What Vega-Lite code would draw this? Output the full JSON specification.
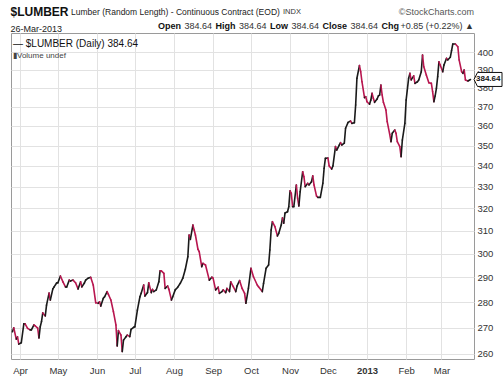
{
  "$schema": "https://vega.github.io/schema/vega-lite/v6.json",
  "width": 463,
  "height": 326,
  "autosize": {"type": "none"},
  "padding": {"left": 11, "top": 33, "right": 29, "bottom": 22},
  "background": "white",
  "config": {
    "view": {"stroke": "#9a9a9a", "strokeWidth": 1},
    "font": "Liberation Sans, Arial, sans-serif"
  },
  "layer": [
    {
      "data": {
        "values": [
          {"date": "2012-03-26", "price": 268.4}, {"date": "2012-03-27", "price": 269.9}, {"date": "2012-03-29", "price": 265.6}, {"date": "2012-03-30", "price": 266.4}, {"date": "2012-03-31", "price": 263.7},
          {"date": "2012-04-02", "price": 264.2}, {"date": "2012-04-04", "price": 271.4}, {"date": "2012-04-05", "price": 271.4}, {"date": "2012-04-07", "price": 269.7}, {"date": "2012-04-09", "price": 269.1},
          {"date": "2012-04-10", "price": 269.1}, {"date": "2012-04-12", "price": 271.0}, {"date": "2012-04-13", "price": 270.6}, {"date": "2012-04-15", "price": 269.8}, {"date": "2012-04-16", "price": 266.0},
          {"date": "2012-04-17", "price": 270.3}, {"date": "2012-04-18", "price": 272.3}, {"date": "2012-04-19", "price": 275.7}, {"date": "2012-04-21", "price": 274.5}, {"date": "2012-04-22", "price": 278.8},
          {"date": "2012-04-24", "price": 283.6}, {"date": "2012-04-25", "price": 280.8}, {"date": "2012-04-27", "price": 285.3}, {"date": "2012-04-28", "price": 286.1}, {"date": "2012-04-30", "price": 287.7},
          {"date": "2012-05-01", "price": 287.8}, {"date": "2012-05-03", "price": 290.6}, {"date": "2012-05-05", "price": 288.2}, {"date": "2012-05-07", "price": 286.1}, {"date": "2012-05-08", "price": 286.1},
          {"date": "2012-05-10", "price": 288.9}, {"date": "2012-05-11", "price": 288.5}, {"date": "2012-05-13", "price": 288.9}, {"date": "2012-05-15", "price": 287.8}, {"date": "2012-05-17", "price": 285.3},
          {"date": "2012-05-19", "price": 288.2}, {"date": "2012-05-20", "price": 286.1}, {"date": "2012-05-22", "price": 287.7}, {"date": "2012-05-23", "price": 288.9}, {"date": "2012-05-25", "price": 289.7},
          {"date": "2012-05-27", "price": 290.1}, {"date": "2012-05-29", "price": 286.9}, {"date": "2012-05-31", "price": 279.7}, {"date": "2012-06-02", "price": 279.5}, {"date": "2012-06-03", "price": 280.1},
          {"date": "2012-06-04", "price": 278.4}, {"date": "2012-06-06", "price": 281.5}, {"date": "2012-06-07", "price": 282.1}, {"date": "2012-06-09", "price": 284.2}, {"date": "2012-06-10", "price": 283.1},
          {"date": "2012-06-12", "price": 280.8}, {"date": "2012-06-14", "price": 276.2}, {"date": "2012-06-16", "price": 271.0}, {"date": "2012-06-17", "price": 263.0}, {"date": "2012-06-18", "price": 268.8},
          {"date": "2012-06-20", "price": 267.1}, {"date": "2012-06-21", "price": 260.9}, {"date": "2012-06-22", "price": 265.2}, {"date": "2012-06-24", "price": 266.5}, {"date": "2012-06-25", "price": 267.1},
          {"date": "2012-06-27", "price": 266.5}, {"date": "2012-06-28", "price": 269.3}, {"date": "2012-06-30", "price": 270.1}, {"date": "2012-07-01", "price": 270.3}, {"date": "2012-07-03", "price": 276.8},
          {"date": "2012-07-05", "price": 282.1}, {"date": "2012-07-06", "price": 283.5}, {"date": "2012-07-08", "price": 286.9}, {"date": "2012-07-09", "price": 282.4}, {"date": "2012-07-11", "price": 283.8},
          {"date": "2012-07-12", "price": 287.8}, {"date": "2012-07-14", "price": 283.8}, {"date": "2012-07-15", "price": 285.1}, {"date": "2012-07-16", "price": 284.2}, {"date": "2012-07-18", "price": 284.9},
          {"date": "2012-07-20", "price": 288.2}, {"date": "2012-07-21", "price": 292.8}, {"date": "2012-07-22", "price": 292.7}, {"date": "2012-07-24", "price": 291.7}, {"date": "2012-07-25", "price": 285.5},
          {"date": "2012-07-27", "price": 286.5}, {"date": "2012-07-28", "price": 285.1}, {"date": "2012-07-30", "price": 280.8}, {"date": "2012-07-31", "price": 282.1}, {"date": "2012-08-02", "price": 284.9},
          {"date": "2012-08-04", "price": 286.0}, {"date": "2012-08-06", "price": 287.6}, {"date": "2012-08-08", "price": 289.7}, {"date": "2012-08-10", "price": 293.4}, {"date": "2012-08-12", "price": 298.7},
          {"date": "2012-08-13", "price": 308.1}, {"date": "2012-08-14", "price": 306.2}, {"date": "2012-08-16", "price": 312.5}, {"date": "2012-08-17", "price": 310.3}, {"date": "2012-08-18", "price": 308.1},
          {"date": "2012-08-20", "price": 301.9}, {"date": "2012-08-21", "price": 300.9}, {"date": "2012-08-23", "price": 294.5}, {"date": "2012-08-24", "price": 295.9}, {"date": "2012-08-26", "price": 295.2},
          {"date": "2012-08-29", "price": 288.9}, {"date": "2012-08-31", "price": 290.1}, {"date": "2012-09-01", "price": 289.7}, {"date": "2012-09-03", "price": 284.9}, {"date": "2012-09-05", "price": 286.0},
          {"date": "2012-09-06", "price": 283.5}, {"date": "2012-09-08", "price": 284.2}, {"date": "2012-09-09", "price": 284.9}, {"date": "2012-09-11", "price": 283.8}, {"date": "2012-09-12", "price": 285.5},
          {"date": "2012-09-14", "price": 284.2}, {"date": "2012-09-15", "price": 288.2}, {"date": "2012-09-17", "price": 286.2}, {"date": "2012-09-19", "price": 284.2}, {"date": "2012-09-20", "price": 286.5},
          {"date": "2012-09-22", "price": 288.7}, {"date": "2012-09-24", "price": 285.5}, {"date": "2012-09-26", "price": 283.5}, {"date": "2012-09-27", "price": 279.5}, {"date": "2012-09-29", "price": 285.5},
          {"date": "2012-10-01", "price": 293.8}, {"date": "2012-10-03", "price": 290.3}, {"date": "2012-10-06", "price": 286.9}, {"date": "2012-10-07", "price": 286.2}, {"date": "2012-10-10", "price": 284.2},
          {"date": "2012-10-11", "price": 287.6}, {"date": "2012-10-13", "price": 293.8}, {"date": "2012-10-15", "price": 295.2}, {"date": "2012-10-16", "price": 301.6}, {"date": "2012-10-17", "price": 310.3},
          {"date": "2012-10-18", "price": 314.0}, {"date": "2012-10-20", "price": 311.8}, {"date": "2012-10-22", "price": 307.7}, {"date": "2012-10-23", "price": 308.8}, {"date": "2012-10-25", "price": 312.5},
          {"date": "2012-10-26", "price": 315.7}, {"date": "2012-10-27", "price": 313.3}, {"date": "2012-10-28", "price": 317.9}, {"date": "2012-10-30", "price": 318.5}, {"date": "2012-10-31", "price": 320.8},
          {"date": "2012-11-01", "price": 328.1}, {"date": "2012-11-02", "price": 327.0}, {"date": "2012-11-03", "price": 320.8}, {"date": "2012-11-04", "price": 320.8}, {"date": "2012-11-06", "price": 330.9},
          {"date": "2012-11-07", "price": 324.7}, {"date": "2012-11-08", "price": 321.1}, {"date": "2012-11-09", "price": 327.7}, {"date": "2012-11-11", "price": 337.2}, {"date": "2012-11-12", "price": 334.8},
          {"date": "2012-11-13", "price": 330.1}, {"date": "2012-11-15", "price": 331.7}, {"date": "2012-11-16", "price": 330.9}, {"date": "2012-11-18", "price": 332.4}, {"date": "2012-11-19", "price": 335.2},
          {"date": "2012-11-20", "price": 330.9}, {"date": "2012-11-22", "price": 325.7}, {"date": "2012-11-23", "price": 325.1}, {"date": "2012-11-25", "price": 325.1}, {"date": "2012-11-27", "price": 331.7},
          {"date": "2012-11-28", "price": 338.9}, {"date": "2012-11-29", "price": 343.7}, {"date": "2012-12-01", "price": 343.9}, {"date": "2012-12-02", "price": 340.0}, {"date": "2012-12-04", "price": 338.5},
          {"date": "2012-12-05", "price": 340.0}, {"date": "2012-12-07", "price": 349.5}, {"date": "2012-12-08", "price": 347.8}, {"date": "2012-12-10", "price": 350.3}, {"date": "2012-12-11", "price": 351.5},
          {"date": "2012-12-12", "price": 350.3}, {"date": "2012-12-14", "price": 351.2}, {"date": "2012-12-15", "price": 358.8}, {"date": "2012-12-17", "price": 361.8}, {"date": "2012-12-19", "price": 362.5},
          {"date": "2012-12-20", "price": 361.3}, {"date": "2012-12-22", "price": 361.6}, {"date": "2012-12-23", "price": 370.9}, {"date": "2012-12-24", "price": 385.3}, {"date": "2012-12-26", "price": 392.3},
          {"date": "2012-12-27", "price": 388.9}, {"date": "2012-12-28", "price": 383.4}, {"date": "2012-12-30", "price": 374.8}, {"date": "2012-12-31", "price": 375.3}, {"date": "2013-01-01", "price": 372.6},
          {"date": "2013-01-03", "price": 371.3}, {"date": "2013-01-04", "price": 373.5}, {"date": "2013-01-05", "price": 377.1}, {"date": "2013-01-06", "price": 374.5}, {"date": "2013-01-07", "price": 372.3},
          {"date": "2013-01-09", "price": 374.1}, {"date": "2013-01-10", "price": 375.7}, {"date": "2013-01-11", "price": 376.2}, {"date": "2013-01-12", "price": 381.6}, {"date": "2013-01-13", "price": 376.2},
          {"date": "2013-01-14", "price": 372.3}, {"date": "2013-01-16", "price": 368.2}, {"date": "2013-01-17", "price": 362.2}, {"date": "2013-01-19", "price": 355.7}, {"date": "2013-01-20", "price": 352.0},
          {"date": "2013-01-21", "price": 356.2}, {"date": "2013-01-23", "price": 357.9}, {"date": "2013-01-24", "price": 356.2}, {"date": "2013-01-25", "price": 352.0}, {"date": "2013-01-27", "price": 349.5},
          {"date": "2013-01-28", "price": 344.5}, {"date": "2013-01-29", "price": 352.8}, {"date": "2013-01-31", "price": 361.3}, {"date": "2013-02-01", "price": 373.5}, {"date": "2013-02-03", "price": 385.4},
          {"date": "2013-02-04", "price": 388.0}, {"date": "2013-02-05", "price": 384.4}, {"date": "2013-02-07", "price": 386.6}, {"date": "2013-02-08", "price": 382.5}, {"date": "2013-02-10", "price": 383.4},
          {"date": "2013-02-11", "price": 384.4}, {"date": "2013-02-13", "price": 388.9}, {"date": "2013-02-14", "price": 398.3}, {"date": "2013-02-15", "price": 391.7}, {"date": "2013-02-17", "price": 387.1},
          {"date": "2013-02-19", "price": 382.9}, {"date": "2013-02-21", "price": 382.5}, {"date": "2013-02-22", "price": 378.0}, {"date": "2013-02-23", "price": 372.6}, {"date": "2013-02-24", "price": 375.7},
          {"date": "2013-02-25", "price": 379.8}, {"date": "2013-02-26", "price": 386.2}, {"date": "2013-02-27", "price": 394.5}, {"date": "2013-02-28", "price": 392.7}, {"date": "2013-03-02", "price": 388.9},
          {"date": "2013-03-03", "price": 392.7}, {"date": "2013-03-05", "price": 396.4}, {"date": "2013-03-06", "price": 395.5}, {"date": "2013-03-08", "price": 397.0}, {"date": "2013-03-09", "price": 400.8},
          {"date": "2013-03-10", "price": 404.6}, {"date": "2013-03-12", "price": 404.6}, {"date": "2013-03-14", "price": 403.0}, {"date": "2013-03-15", "price": 395.5}, {"date": "2013-03-17", "price": 388.9},
          {"date": "2013-03-18", "price": 388.0}, {"date": "2013-03-19", "price": 389.9}, {"date": "2013-03-20", "price": 384.4}, {"date": "2013-03-22", "price": 383.8}, {"date": "2013-03-24", "price": 384.64}
        ],
        "format": {"parse": {"date": "date:'%Y-%m-%d'"}}
      },
      "transform": [
        {"window": [{"op": "lag", "field": "date", "as": "pdate"}, {"op": "lag", "field": "price", "as": "pprice"}], "sort": [{"field": "date", "order": "ascending"}]},
        {"filter": "datum.pdate != null"}
      ],
      "mark": {"type": "rule", "strokeWidth": 1.6, "strokeCap": "round"},
      "encoding": {
        "x": {
          "field": "pdate", "type": "temporal",
          "scale": {"domain": [{"year": 2012, "month": 3, "date": 24, "hours": 20}, {"year": 2013, "month": 3, "date": 26, "hours": 19}]},
          "axis": {
            "title": null,
            "values": [
              {"year": 2012, "month": 4, "date": 1}, {"year": 2012, "month": 5, "date": 1}, {"year": 2012, "month": 6, "date": 1}, {"year": 2012, "month": 7, "date": 1},
              {"year": 2012, "month": 8, "date": 1}, {"year": 2012, "month": 9, "date": 1}, {"year": 2012, "month": 10, "date": 1}, {"year": 2012, "month": 11, "date": 1},
              {"year": 2012, "month": 12, "date": 1}, {"year": 2013, "month": 1, "date": 1}, {"year": 2013, "month": 2, "date": 1}, {"year": 2013, "month": 3, "date": 1}
            ],
            "labelExpr": "month(datum.value) == 0 ? timeFormat(datum.value, '%Y') : timeFormat(datum.value, '%b')",
            "labelFontWeight": {"condition": {"test": "month(datum.value) == 0", "value": "bold"}, "value": "normal"},
            "grid": true, "gridColor": "#e2e2e2", "ticks": false, "domain": false,
            "labelFontSize": 9.5, "labelColor": "#333333", "labelPadding": 6, "labelFlush": false, "labelOverlap": false
          }
        },
        "x2": {"field": "date"},
        "y": {
          "field": "pprice", "type": "quantitative",
          "scale": {"type": "log", "domain": [258.15, 411], "nice": false},
          "axis": {
            "orient": "right", "title": null,
            "values": [260, 270, 280, 290, 300, 310, 320, 330, 340, 350, 360, 370, 380, 390, 400],
            "format": "d", "grid": true, "gridColor": "#e2e2e2", "ticks": false, "domain": false,
            "labelFontSize": 9.5, "labelColor": "#333333", "labelPadding": 3, "labelFlush": false, "labelOverlap": false
          }
        },
        "y2": {"field": "price"},
        "color": {"condition": {"test": "datum.price < datum.pprice", "value": "#b8164f"}, "value": "#1a1a1a"}
      }
    },
    {
      "data": {"values": [{}]},
      "mark": {"type": "text", "text": "$LUMBER", "align": "left", "baseline": "middle", "fontSize": 12, "fontWeight": "bold", "color": "#111111"},
      "encoding": {"x": {"datum": {"year": 2012, "month": 3, "date": 24, "hours": 10}, "type": "temporal"}, "y": {"datum": 423.5, "type": "quantitative"}}
    },
    {
      "data": {"values": [{}]},
      "mark": {"type": "text", "text": "Lumber (Random Length) - Continuous Contract (EOD)", "align": "left", "baseline": "middle", "fontSize": 8.5, "color": "#222222"},
      "encoding": {"x": {"datum": {"year": 2012, "month": 5, "date": 11, "hours": 10}, "type": "temporal"}, "y": {"datum": 423.5, "type": "quantitative"}}
    },
    {
      "data": {"values": [{}]},
      "mark": {"type": "text", "text": "INDX", "align": "left", "baseline": "middle", "fontSize": 7.5, "color": "#333333"},
      "encoding": {"x": {"datum": {"year": 2012, "month": 10, "date": 26, "hours": 10}, "type": "temporal"}, "y": {"datum": 423.5, "type": "quantitative"}}
    },
    {
      "data": {"values": [{}]},
      "mark": {"type": "text", "text": "©StockCharts.com", "align": "right", "baseline": "middle", "fontSize": 9, "color": "#555555"},
      "encoding": {"x": {"datum": {"year": 2013, "month": 3, "date": 26, "hours": 19}, "type": "temporal"}, "y": {"datum": 423.5, "type": "quantitative"}}
    },
    {
      "data": {"values": [{}]},
      "mark": {"type": "text", "text": "26-Mar-2013", "align": "left", "baseline": "middle", "fontSize": 9, "color": "#222222"},
      "encoding": {"x": {"datum": {"year": 2012, "month": 3, "date": 24, "hours": 10}, "type": "temporal"}, "y": {"datum": 413.1, "type": "quantitative"}}
    },
    {
      "data": {"values": [{}]},
      "mark": {"type": "text", "text": "Open", "align": "left", "baseline": "middle", "fontSize": 9, "fontWeight": "bold", "color": "#111111"},
      "encoding": {"x": {"datum": {"year": 2012, "month": 7, "date": 19, "hours": 8}, "type": "temporal"}, "y": {"datum": 415.4, "type": "quantitative"}}
    },
    {
      "data": {"values": [{}]},
      "mark": {"type": "text", "text": "384.64", "align": "left", "baseline": "middle", "fontSize": 9, "color": "#333333"},
      "encoding": {"x": {"datum": {"year": 2012, "month": 8, "date": 9, "hours": 9}, "type": "temporal"}, "y": {"datum": 415.4, "type": "quantitative"}}
    },
    {
      "data": {"values": [{}]},
      "mark": {"type": "text", "text": "High", "align": "left", "baseline": "middle", "fontSize": 9, "fontWeight": "bold", "color": "#111111"},
      "encoding": {"x": {"datum": {"year": 2012, "month": 9, "date": 2, "hours": 22}, "type": "temporal"}, "y": {"datum": 415.4, "type": "quantitative"}}
    },
    {
      "data": {"values": [{}]},
      "mark": {"type": "text", "text": "384.64", "align": "left", "baseline": "middle", "fontSize": 9, "color": "#333333"},
      "encoding": {"x": {"datum": {"year": 2012, "month": 9, "date": 21, "hours": 13}, "type": "temporal"}, "y": {"datum": 415.4, "type": "quantitative"}}
    },
    {
      "data": {"values": [{}]},
      "mark": {"type": "text", "text": "Low", "align": "left", "baseline": "middle", "fontSize": 9, "fontWeight": "bold", "color": "#111111"},
      "encoding": {"x": {"datum": {"year": 2012, "month": 10, "date": 16, "hours": 3}, "type": "temporal"}, "y": {"datum": 415.4, "type": "quantitative"}}
    },
    {
      "data": {"values": [{}]},
      "mark": {"type": "text", "text": "384.64", "align": "left", "baseline": "middle", "fontSize": 9, "color": "#333333"},
      "encoding": {"x": {"datum": {"year": 2012, "month": 11, "date": 2, "hours": 4}, "type": "temporal"}, "y": {"datum": 415.4, "type": "quantitative"}}
    },
    {
      "data": {"values": [{}]},
      "mark": {"type": "text", "text": "Close", "align": "left", "baseline": "middle", "fontSize": 9, "fontWeight": "bold", "color": "#111111"},
      "encoding": {"x": {"datum": {"year": 2012, "month": 11, "date": 26, "hours": 18}, "type": "temporal"}, "y": {"datum": 415.4, "type": "quantitative"}}
    },
    {
      "data": {"values": [{}]},
      "mark": {"type": "text", "text": "384.64", "align": "left", "baseline": "middle", "fontSize": 9, "color": "#333333"},
      "encoding": {"x": {"datum": {"year": 2012, "month": 12, "date": 18, "hours": 23}, "type": "temporal"}, "y": {"datum": 415.4, "type": "quantitative"}}
    },
    {
      "data": {"values": [{}]},
      "mark": {"type": "text", "text": "Chg", "align": "left", "baseline": "middle", "fontSize": 9, "fontWeight": "bold", "color": "#111111"},
      "encoding": {"x": {"datum": {"year": 2013, "month": 1, "date": 12, "hours": 12}, "type": "temporal"}, "y": {"datum": 415.4, "type": "quantitative"}}
    },
    {
      "data": {"values": [{}]},
      "mark": {"type": "text", "text": "+0.85 (+0.22%) ▲", "align": "right", "baseline": "middle", "fontSize": 9, "color": "#333333"},
      "encoding": {"x": {"datum": {"year": 2013, "month": 3, "date": 26, "hours": 19}, "type": "temporal"}, "y": {"datum": 415.4, "type": "quantitative"}}
    },
    {
      "data": {"values": [{}]},
      "mark": {"type": "text", "text": "— $LUMBER (Daily) 384.64", "align": "left", "baseline": "middle", "fontSize": 10, "color": "#111111"},
      "encoding": {"x": {"datum": {"year": 2012, "month": 3, "date": 26, "hours": 10}, "type": "temporal"}, "y": {"datum": 404.6, "type": "quantitative"}}
    },
    {
      "data": {"values": [{}]},
      "mark": {"type": "text", "text": "▮Volume undef", "align": "left", "baseline": "middle", "fontSize": 8, "color": "#444444"},
      "encoding": {"x": {"datum": {"year": 2012, "month": 3, "date": 26, "hours": 10}, "type": "temporal"}, "y": {"datum": 398.0, "type": "quantitative"}}
    },
    {
      "data": {"values": [{}]},
      "mark": {"type": "point", "shape": "M0,0L0.25,-0.5L2,-0.5L2,0.5L0.25,0.5Z", "size": 784, "filled": true, "fill": "white", "stroke": "#111111", "strokeWidth": 1, "opacity": 1},
      "encoding": {"x": {"datum": {"year": 2013, "month": 3, "date": 26, "hours": 19}, "type": "temporal"}, "y": {"datum": 384.64, "type": "quantitative"}}
    },
    {
      "data": {"values": [{}]},
      "mark": {"type": "text", "text": "384.64", "align": "left", "baseline": "middle", "dx": 2, "fontSize": 8, "fontWeight": "bold", "color": "#111111"},
      "encoding": {"x": {"datum": {"year": 2013, "month": 3, "date": 26, "hours": 19}, "type": "temporal"}, "y": {"datum": 384.64, "type": "quantitative"}}
    }
  ]
}
